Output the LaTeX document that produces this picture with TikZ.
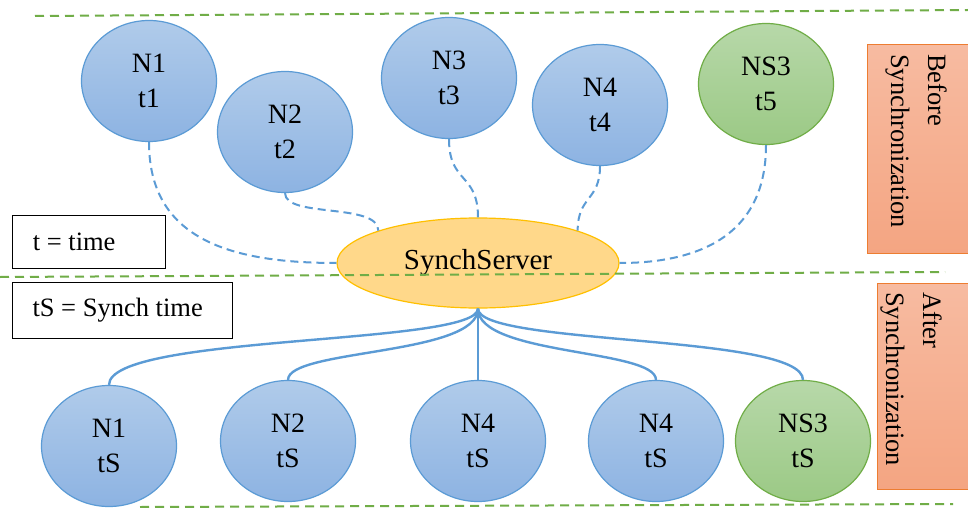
\documentclass[tikz,border=0pt]{standalone}
\usepackage{fontspec}
\setmainfont{LiberationSerif}[Extension=.ttf, UprightFont=*-Regular, BoldFont=*-Bold]
\usetikzlibrary{shapes.geometric}
\definecolor{bluefillA}{HTML}{B0CBEA}
\definecolor{bluefillB}{HTML}{8DB3E2}
\definecolor{blueline}{HTML}{5B9BD5}
\definecolor{greenfillA}{HTML}{B7D8A9}
\definecolor{greenfillB}{HTML}{9BC985}
\definecolor{greenline}{HTML}{70AD47}
\definecolor{orangefill}{HTML}{FFD88A}
\definecolor{orangeline}{HTML}{FFC000}
\definecolor{salmonA}{HTML}{F7BBA1}
\definecolor{salmonB}{HTML}{F4A582}
\definecolor{salmonline}{HTML}{ED7D31}
\tikzset{
  bnode/.style={ellipse, draw=blueline, line width=1.2pt, top color=bluefillA, bottom color=bluefillB,
    minimum width=135pt, minimum height=121pt, inner sep=0pt, align=center,
    font=\fontsize{28}{35}\selectfont},
  gnode/.style={bnode, draw=greenline, top color=greenfillA, bottom color=greenfillB},
  server/.style={ellipse, draw=orangeline, line width=1.2pt, fill=orangefill,
    minimum width=282pt, minimum height=90pt, inner sep=0pt, font=\fontsize{29}{35}\selectfont},
  legend/.style={draw=black, line width=1.3pt, rectangle, inner sep=0pt, anchor=north west,
    font=\fontsize{26.5}{32}\selectfont},
  sidebox/.style={rectangle, draw=salmonline, line width=1.1pt, top color=salmonA, bottom color=salmonB,
    anchor=north west, inner sep=0pt},
  sidetext/.style={rotate=-90, anchor=north west, align=left, inner sep=0pt,
    font=\fontsize{26.5}{37}\selectfont},
  sepline/.style={draw=greenline, line width=2pt, dash pattern=on 9pt off 6pt},
  dconn/.style={draw=blueline, line width=2pt, dash pattern=on 8pt off 5pt},
  sconn/.style={draw=blueline, line width=2.4pt},
}
\begin{document}
\begin{tikzpicture}[x=1pt,y=-1pt]
\path[use as bounding box, fill=white] (0,0) rectangle (968,508);
% separators
\coordinate (s1a) at (35,16); \coordinate (s1b) at (968,10);
\coordinate (s2a) at (0,277); \coordinate (s2b) at (945,272);
\coordinate (s3a) at (140,507); \coordinate (s3b) at (953,504);
\draw[sepline] (s1a) -- (s1b);
\draw[sepline] (s3a) -- (s3b);
% side boxes
\node[sidebox, minimum width=106pt, minimum height=209pt] (bbox) at (867,44) {};
\node[sidetext] (btext) at (947,54) {Before\\Synchronization};
\node[sidebox, minimum width=96pt, minimum height=206pt] (abox) at (877,283) {};
\node[sidetext] (atext) at (942,292) {After\\Synchronization};
% legends
\node[legend, minimum width=153pt, minimum height=53pt] (leg1) at (12,215) {\hspace*{-30pt}t = time};
\node[legend, minimum width=220pt, minimum height=56pt] (leg2) at (12,282) {\hspace*{-10pt}tS = Synch time};
% top nodes
\node[bnode] (N1) at (149,81) {N1\\t1};
\node[bnode] (N2) at (285,132) {N2\\t2};
\node[bnode] (N3) at (449,78) {N3\\t3};
\node[bnode] (N4) at (600,105) {N4\\t4};
\node[gnode] (NS3) at (766,84) {NS3\\t5};
% server
\node[server] (S) at (478,263) {SynchServer};
\draw[sepline] (s2a) -- (s2b);
% dashed connectors
\draw[dconn] (N1.south) .. controls +(0,95) and +(-110,0) .. (S.west);
\draw[dconn] (N2.south) .. controls +(0,25) and +(0,-28) .. (S.162);
\draw[dconn] (N3.south) .. controls +(0,45) and +(0,-45) .. (S.north);
\draw[dconn] (N4.south) .. controls +(0,35) and +(0,-35) .. (S.18);
\draw[dconn] (NS3.south) .. controls +(0,90) and +(80,0) .. (S.east);
% bottom nodes
\node[bnode] (M1) at (109,446) {N1\\tS};
\node[bnode] (M2) at (288,441) {N2\\tS};
\node[bnode] (M3) at (478,441) {N4\\tS};
\node[bnode] (M4) at (656,441) {N4\\tS};
\node[gnode] (M5) at (803,441) {NS3\\tS};
% solid connectors
\draw[sconn] (S.south) .. controls +(0,37) and +(0,-51) .. (M1.north);
\draw[sconn] (S.south) .. controls +(0,47) and +(0,-31) .. (M2.north);
\draw[sconn] (S.south) -- (M3.north);
\draw[sconn] (S.south) .. controls +(0,47) and +(0,-31) .. (M4.north);
\draw[sconn] (S.south) .. controls +(0,37) and +(0,-46) .. (M5.north);
\end{tikzpicture}
\end{document}
